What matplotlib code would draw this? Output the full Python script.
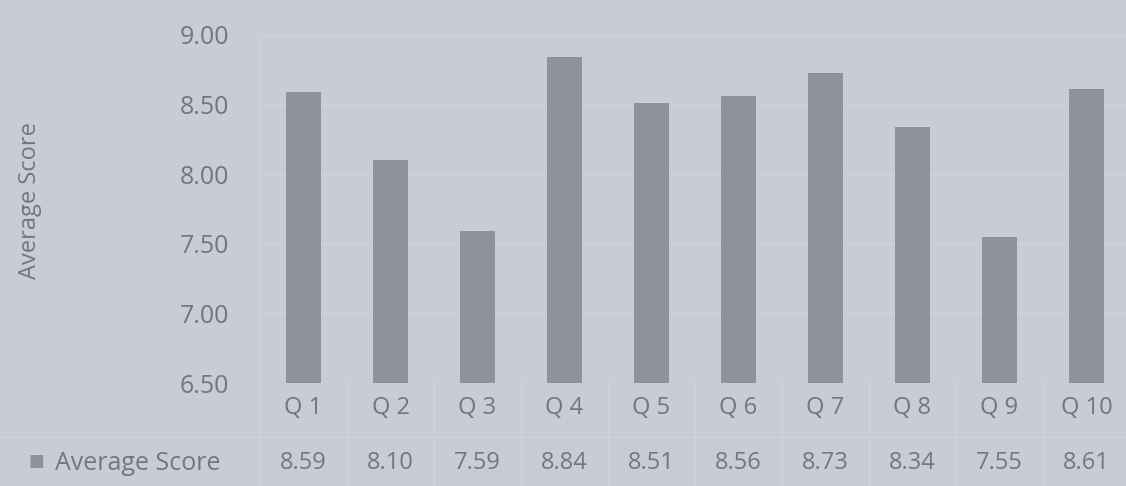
import matplotlib
matplotlib.use("Agg")
import matplotlib.pyplot as plt
import matplotlib.transforms as mtransforms

categories = ["Q 1", "Q 2", "Q 3", "Q 4", "Q 5", "Q 6", "Q 7", "Q 8", "Q 9", "Q 10"]
scores = [8.59, 8.10, 7.59, 8.84, 8.51, 8.56, 8.73, 8.34, 7.55, 8.61]
yticks = [6.50, 7.00, 7.50, 8.00, 8.50, 9.00]
series_name = "Average Score"

bg = "#c9cbd7"
bar_c = "#8f919b"
txt_c = "#74767f"
grid_c = "#d0d2dc"
fs = 17

plt.rcParams['font.family'] = ['Open Sans', 'DejaVu Sans']

fig = plt.figure(figsize=(11.26, 4.86), dpi=100, facecolor=bg)
ax = fig.add_axes([260/1126, 1 - 383/486, 870/1126, (383-35)/486], facecolor=bg)

x = list(range(len(categories)))
ax.bar(x, [s - 6.5 for s in scores], bottom=6.5, width=0.4, color=bar_c, zorder=3)
ax.set_xlim(-0.5, len(categories) - 0.5)
ax.set_ylim(6.5, 9.0)
ax.set_yticks(yticks)
ax.set_yticklabels([f"{t:.2f}" for t in yticks], color=txt_c, fontsize=18)
ax.set_xticks([])
for sp in ax.spines.values():
    sp.set_visible(False)
ax.tick_params(axis='y', length=0, pad=22)
for t in yticks:
    ax.axhline(t, color=grid_c, lw=1, zorder=1)
ax.axvline(-0.5, color=grid_c, lw=1, zorder=1)

fig.text(30/1126, 1 - 200/486, series_name, rotation=90, color=txt_c, fontsize=fs,
         ha='center', va='center')

trans = mtransforms.blended_transform_factory(ax.transData, fig.transFigure)
for i, (c, s) in enumerate(zip(categories, scores)):
    ax.text(i, 1 - 408/486, c, transform=trans, ha='center', va='center',
            color=txt_c, fontsize=fs)
    ax.text(i, 1 - 463/486, f"{s:.2f}", transform=trans, ha='center', va='center',
            color=txt_c, fontsize=fs)
    ax.plot([i - 0.5, i - 0.5], [1 - 383/486, 1 - 486/486], transform=trans,
            color=grid_c, lw=1, clip_on=False)

fig.text(28/1126, 1 - 462/486, "\u25a0", color=bar_c, fontsize=12, ha='left', va='center')
fig.text(55/1126, 1 - 463/486, series_name, color=txt_c, fontsize=18, ha='left', va='center')
fig.add_artist(plt.Line2D([0, 1], [1 - 437/486, 1 - 437/486], color=grid_c, lw=1))

fig.savefig("out.png", dpi=100, facecolor=bg)
